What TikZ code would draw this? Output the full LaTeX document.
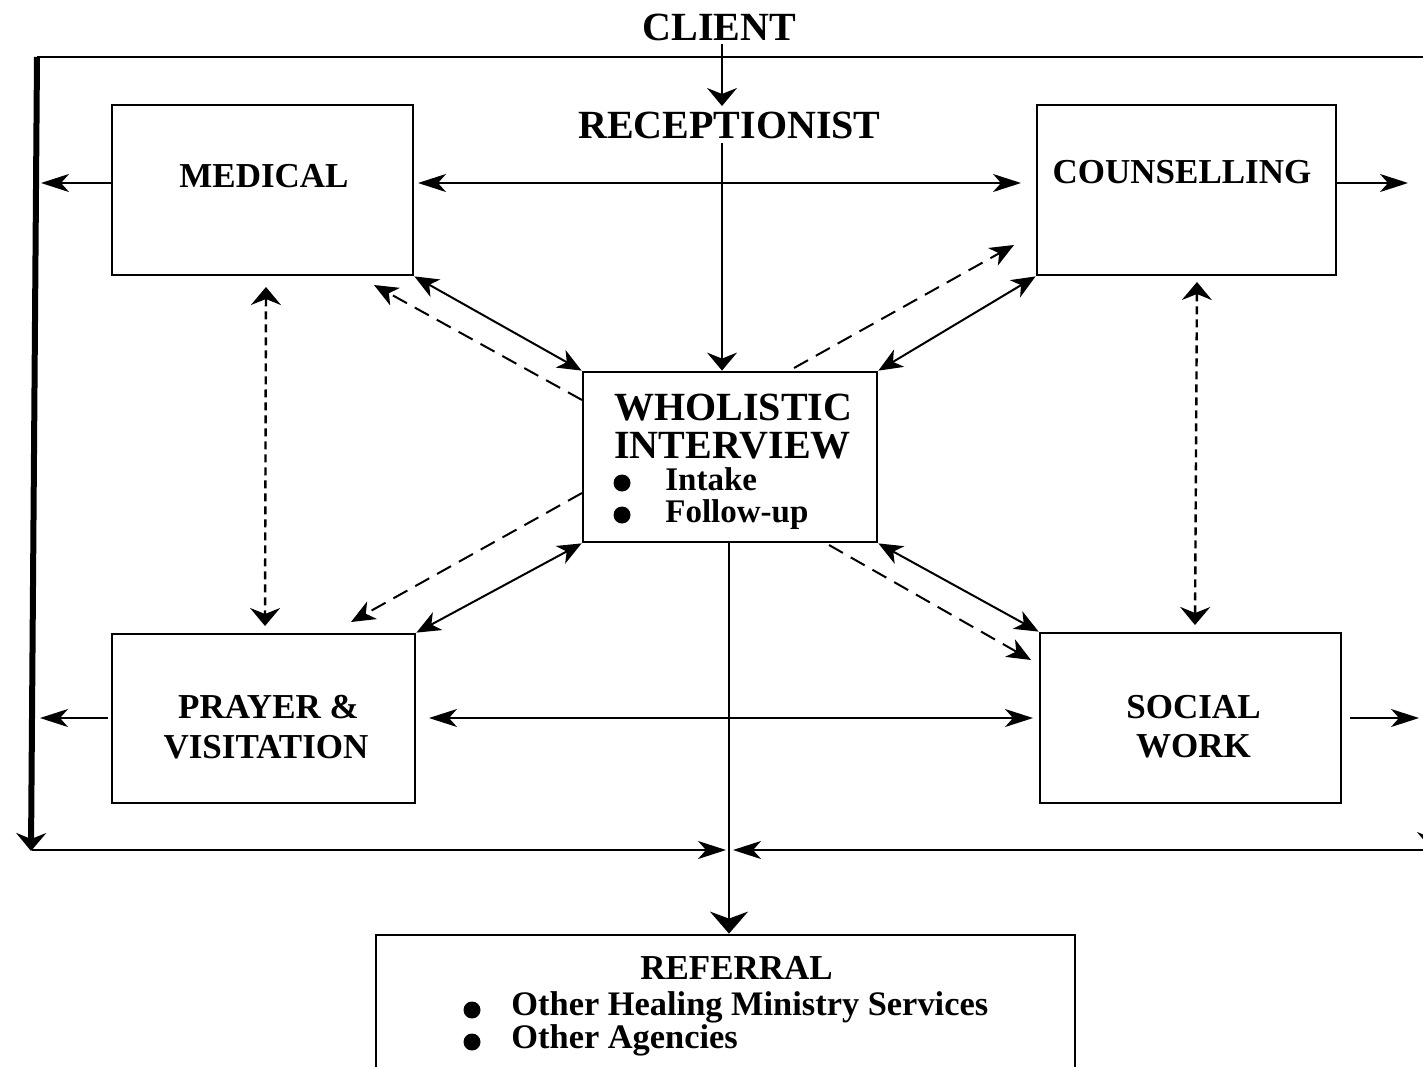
\documentclass[tikz,border=0pt]{standalone}
\usepackage{fontspec}
\setmainfont{Liberation Serif}
\usetikzlibrary{arrows.meta}
\tikzset{
  hA/.tip={Stealth[length=14pt,width=9pt,inset=4pt]},
  vA/.tip={Stealth[length=9pt,width=15pt,inset=3pt]},
  dA/.tip={Stealth[length=12pt,width=10pt,inset=3.5pt]},
  bA/.tip={Stealth[length=11pt,width=19pt,inset=3.5pt]},
  box/.style={draw, line width=1.4pt, inner sep=0pt},
  lbl/.style={font=\fontsize{17.5}{20}\selectfont\bfseries, inner sep=0pt, anchor=base},
  big/.style={font=\fontsize{20}{24}\selectfont\bfseries, inner sep=0pt, anchor=base},
  itm/.style={font=\fontsize{16.5}{19}\selectfont\bfseries, inner sep=0pt, anchor=base west},
  itmr/.style={font=\fontsize{17.2}{20}\selectfont\bfseries, inner sep=0pt, anchor=base west},
  dot/.style={circle, fill, inner sep=0pt, minimum size=8.5pt},
  conn/.style={line width=1pt},
  dotc/.style={line width=1.2pt, dash pattern=on 4pt off 2.5pt},
  dashc/.style={line width=1pt, dash pattern=on 8pt off 4.5pt},
}
\begin{document}
\begin{tikzpicture}[x=0.5pt,y=-0.5pt]
\useasboundingbox (0,0) rectangle (1423,1066);
\clip (0,0) rectangle (1423,1066);

% ---------- boxes ----------
\node[box, minimum width=150.5pt, minimum height=85pt] (med) at (262.5,190) {};
\node[box, minimum width=149.5pt, minimum height=85pt] (cou) at (1186.5,190) {};
\node[box, minimum width=151.5pt, minimum height=84.5pt] (pra) at (263.5,718.5) {};
\node[box, minimum width=150.5pt, minimum height=85pt] (soc) at (1190.5,718) {};
\node[box, minimum width=147pt, minimum height=85pt] (who) at (730,457) {};
\node[box, minimum width=349.5pt, minimum height=75pt] (ref) at (725.5,1010) {};

% ---------- texts ----------
\node[big] (client) at (719.5,40) {CLIENT};
\node[big] (recep) at (729.5,138) {RECEPTIONIST};
\node[lbl] (medt) at (264,187) {MEDICAL};
\node[lbl] (cout) at (1182,183) {COUNSELLING};
\node[lbl] (prat1) at (268.5,718) {PRAYER \&};
\node[lbl] (prat2) at (266,758) {VISITATION};
\node[lbl] (soct1) at (1193.5,718) {SOCIAL};
\node[lbl] (soct2) at (1193.5,757) {WORK};
\node[big, anchor=base west] (whot1) at (614,420) {WHOLISTIC};
\node[big, anchor=base west] (whot2) at (614,458) {INTERVIEW};
\node[dot] (whob1) at (622,483) {};
\node[dot] (whob2) at (622,515) {};
\node[itm] (whoi1) at (665,490) {Intake};
\node[itm] (whoi2) at (665,522) {Follow-up};
\node[lbl] (reft) at (736.5,979) {REFERRAL};
\node[dot] (refb1) at (472,1010) {};
\node[dot] (refb2) at (472,1042) {};
\node[itmr] (refi1) at (511,1015) {Other Healing Ministry Services};
\node[itmr] (refi2) at (511,1048) {Other Agencies};

% ---------- frame ----------
\coordinate (ftl) at (37,57);
\coordinate (ftr) at (1432,57);
\coordinate (fbl) at (31,851);
\coordinate (fbr) at (1432,850);
\coordinate (fbm1) at (726,850);
\coordinate (fbm2) at (733,850);
\coordinate (fbs) at (32,850);
\draw[line width=1pt] (ftl) -- (ftr);
\draw[line width=3pt, -{vA}] (ftl) -- (fbl);
\draw[line width=1pt, -{vA}] (ftr) -- (fbr);
\draw[line width=1.2pt, -{hA}] (fbs) -- (fbm1);
\draw[line width=1.2pt, -{hA}] (fbr) -- (fbm2);

% ---------- client / receptionist ----------
\coordinate (cr1) at (722,44);
\coordinate (cr2) at (722,106);
\coordinate (rw1) at (722,143);
\draw[conn, -{vA}] (cr1) -- (cr2);
\draw[conn, -{vA}] (rw1) -- (who.north -| rw1);

% ---------- horizontals ----------
\coordinate (mc1) at (418,183);
\coordinate (mc2) at (1021,183);
\draw[conn, {hA}-{hA}] (mc1) -- (mc2);
\coordinate (ml1) at (112,183);
\coordinate (ml2) at (41,183);
\draw[conn, -{hA}] (ml1) -- (ml2);
\coordinate (cr3) at (1336,183);
\coordinate (cr4) at (1408,183);
\draw[conn, -{hA}] (cr3) -- (cr4);
\coordinate (ps1) at (429,718);
\coordinate (ps2) at (1033,718);
\draw[conn, {hA}-{hA}] (ps1) -- (ps2);
\coordinate (pl1) at (108,718);
\coordinate (pl2) at (40,718);
\draw[conn, -{hA}] (pl1) -- (pl2);
\coordinate (sr1) at (1350,718);
\coordinate (sr2) at (1419,718);
\draw[conn, -{hA}] (sr1) -- (sr2);

% ---------- dotted verticals ----------
\coordinate (mp1) at (266,287);
\coordinate (mp2) at (265,626);
\draw[dotc, {vA}-{vA}] (mp1) -- (mp2);
\coordinate (cs1) at (1197,282);
\coordinate (cs2) at (1195,625);
\draw[dotc, {vA}-{vA}] (cs1) -- (cs2);

% ---------- solid diagonals ----------
\draw[conn, {dA}-{dA}] (med.south east) -- (who.north west);
\draw[conn, {dA}-{dA}] (cou.south west) -- (who.north east);
\draw[conn, {dA}-{dA}] (pra.north east) -- (who.south west);
\draw[conn, {dA}-{dA}] (soc.north west) -- (who.south east);

% ---------- dashed diagonals ----------
\coordinate (dm1) at (582,400);
\coordinate (dm2) at (374,285);
\draw[dashc, -{dA}] (dm1) -- (dm2);
\coordinate (dc1) at (794,368);
\coordinate (dc2) at (1014,245);
\draw[dashc, -{dA}] (dc1) -- (dc2);
\coordinate (dp1) at (582,493);
\coordinate (dp2) at (351,622);
\draw[dashc, -{dA}] (dp1) -- (dp2);
\coordinate (ds1) at (829,545);
\coordinate (ds2) at (1031,660);
\draw[dashc, -{dA}] (ds1) -- (ds2);

% ---------- to referral ----------
\coordinate (cx) at (729,0);
\draw[line width=1.2pt, -{bA}] (who.south -| cx) -- (ref.north -| cx);
\end{tikzpicture}
\end{document}
